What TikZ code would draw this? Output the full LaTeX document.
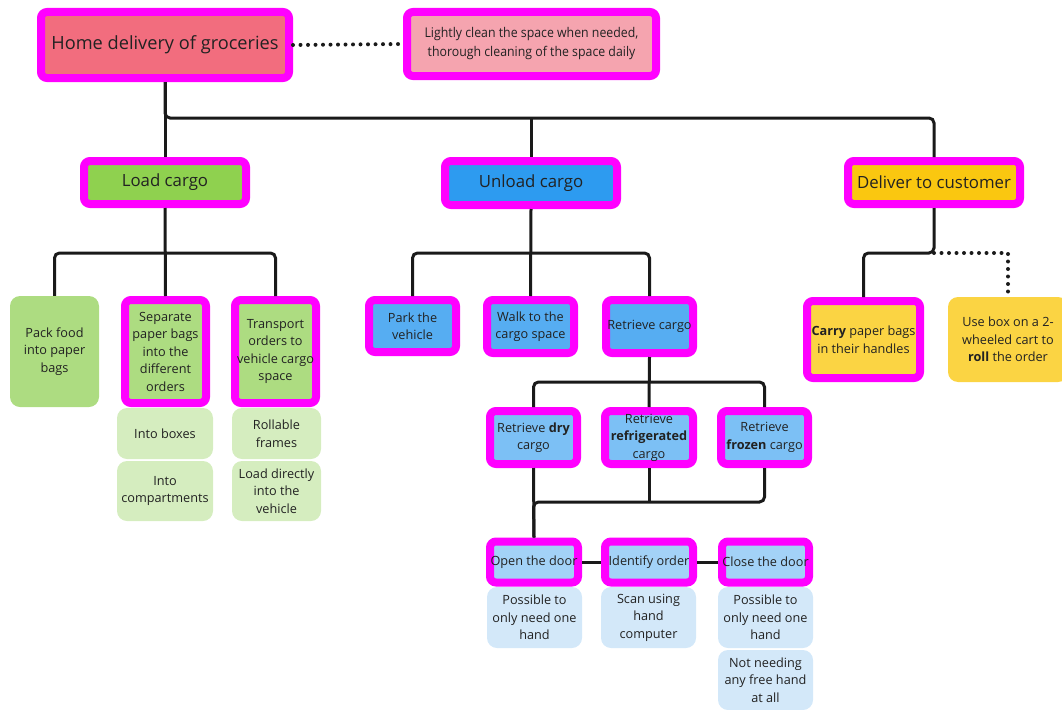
\documentclass[tikz,border=0pt]{standalone}
\usepackage{fontspec}
\setmainfont{Open Sans}
\newfontfamily\condfont[FakeStretch=0.92]{Open Sans}
\usetikzlibrary{calc}
\definecolor{txt}{HTML}{222222}
\definecolor{mag}{HTML}{FF00FF}
\definecolor{homeC}{HTML}{F26D7E}
\definecolor{cleanC}{HTML}{F5A4AF}
\definecolor{loadC}{HTML}{8FD14F}
\definecolor{greenB}{HTML}{ADDC81}
\definecolor{greenC}{HTML}{D5EDBF}
\definecolor{unloadC}{HTML}{2D9BF0}
\definecolor{blueB}{HTML}{56ADF2}
\definecolor{blueC}{HTML}{7CC0F5}
\definecolor{blueD}{HTML}{A3D2F7}
\definecolor{blueE}{HTML}{D3E8F9}
\definecolor{deliverC}{HTML}{FAC710}
\definecolor{yellowB}{HTML}{FBD443}
\definecolor{lineC}{HTML}{1A1A1A}
\tikzset{
  magbox/.style={draw=mag, line width=8pt, rounded corners=6pt, inner sep=0pt, align=center, text=txt, font=\fontsize{12.7pt}{17.5pt}\selectfont},
  plainbox/.style={rounded corners=10pt, inner sep=0pt, align=center, text=txt, font=\fontsize{12.7pt}{17.5pt}\selectfont},
  sz/.style 2 args={minimum width=#1pt, minimum height=#2pt},
  conn/.style={draw=lineC, line width=3pt, rounded corners=5pt},
  dotline/.style={draw=lineC, line width=4pt, line cap=round, dash pattern=on 0pt off 7.5pt}
}
\begin{document}
\begin{tikzpicture}[x=1pt,y=-1pt]
\useasboundingbox (0,0) rectangle (1062,709);
% top level
\node[magbox, fill=homeC, sz={248}{66}, font=\fontsize{18.2pt}{21pt}\selectfont] (home) at (165,45) {Home delivery of groceries};
\node[magbox, fill=cleanC, sz={249}{64}, font=\condfont\fontsize{13.4pt}{19pt}\selectfont] (clean) at (531.5,44) {Lightly clean the space when needed,\\thorough cleaning of the space daily};
\node[magbox, fill=loadC, sz={162}{43}, font=\fontsize{16.8pt}{19pt}\selectfont] (load) at (165,182.5) {Load cargo};
\node[magbox, fill=unloadC, sz={172}{44}, font=\fontsize{16.8pt}{19pt}\selectfont] (unload) at (531,183) {Unload cargo};
\node[magbox, fill=deliverC, sz={172}{43}, font=\fontsize{16.8pt}{19pt}\selectfont] (deliver) at (934,182.5) {Deliver to customer};
% load subtree
\node[plainbox, fill=greenB, sz={89}{111}] (pack) at (54.5,351.5) {Pack food\\into paper\\bags};
\node[magbox, fill=greenB, sz={81}{103}] (sep) at (165.5,351.5) {Separate\\paper bags\\into the\\different\\orders};
\node[magbox, fill=greenB, sz={81}{103}] (trans) at (275.5,351.5) {Transport\\orders to\\vehicle cargo\\space};
\node[plainbox, fill=greenC, sz={96}{51}] (intobox) at (165,433.5) {Into boxes};
\node[plainbox, fill=greenC, sz={96}{60}] (intocomp) at (165,491) {Into\\compartments};
\node[plainbox, fill=greenC, sz={89}{51}] (roll) at (276.5,433.5) {Rollable\\frames};
\node[plainbox, fill=greenC, sz={89}{60}] (loaddir) at (276.5,491) {Load directly\\into the\\vehicle};
% unload subtree
\node[magbox, fill=blueB, sz={87}{52}] (park) at (412.5,326) {Park the\\vehicle};
\node[magbox, fill=blueB, sz={87}{53}] (walk) at (530.5,326.5) {Walk to the\\cargo space};
\node[magbox, fill=blueB, sz={87}{53}] (retr) at (649.5,326.5) {Retrieve cargo};
\node[magbox, fill=blueC, sz={87}{53}] (dry) at (533.5,437.5) {Retrieve \textbf{dry}\\cargo};
\node[magbox, fill=blueC, sz={88}{53}] (refr) at (649,437.5) {Retrieve\\\textbf{refrigerated}\\cargo};
\node[magbox, fill=blueC, sz={87}{53}] (frozen) at (764.5,437.5) {Retrieve\\\textbf{frozen} cargo};
\node[magbox, fill=blueD, sz={88}{41}] (open) at (534,562) {Open the door};
\node[magbox, fill=blueD, sz={88}{41}] (ident) at (649,562) {Identify order};
\node[magbox, fill=blueD, sz={87}{41}] (close) at (765.5,562) {Close the door};
\node[plainbox, fill=blueE, sz={95}{61}] (poss1) at (534.5,617.5) {Possible to\\only need one\\hand};
\node[plainbox, fill=blueE, sz={95}{61}] (scan) at (648.5,617.5) {Scan using\\hand\\computer};
\node[plainbox, fill=blueE, sz={95}{61}] (poss2) at (765.5,617.5) {Possible to\\only need one\\hand};
\node[plainbox, fill=blueE, sz={95}{60}] (notneed) at (765.5,680) {Not needing\\any free hand\\at all};
% deliver subtree
\node[magbox, fill=yellowB, sz={113}{77}] (carry) at (863.5,339.5) {\textbf{Carry} paper bags\\in their handles};
\node[plainbox, fill=yellowB, sz={120}{85}] (usebox) at (1008,339.5) {Use box on a 2-\\wheeled cart to\\\textbf{roll} the order};
% bus coordinates
\coordinate (busA) at (0,118);
\coordinate (busL) at (0,253);
\coordinate (busR) at (0,382);
\coordinate (busB) at (0,502);
% connectors
\draw[dotline] (home.east) -- (clean.west);
\draw[conn] (home.south) -- (load.north);
\draw[conn] (home.south) |- (deliver.north |- busA) -- (deliver.north);
\draw[conn] (unload.north |- busA) -- (unload.north);
\draw[conn] (load.south) -- (sep.north);
\draw[conn] (pack.north) |- (load.south |- busL) -| (trans.north);
\draw[conn] (unload.south) -- (walk.north);
\draw[conn] (park.north) |- (unload.south |- busL) -| (retr.north);
\draw[conn] (retr.south) -- (refr.north);
\draw[conn] (dry.north) |- (retr.south |- busR) -| (frozen.north);
\draw[conn] (dry.south) -- (open.north);
\draw[conn] (refr.south) -- (refr.south |- busB);
\draw[conn] (frozen.south) |- (dry.south |- busB) -- (open.north);
\draw[conn] (open.east) -- (ident.west);
\draw[conn] (ident.east) -- (close.west);
\draw[conn] (deliver.south) -- (deliver.south |- busL) -| (carry.north);
\draw[dotline] (deliver.south |- busL) -| (usebox.north);
\end{tikzpicture}
\end{document}
